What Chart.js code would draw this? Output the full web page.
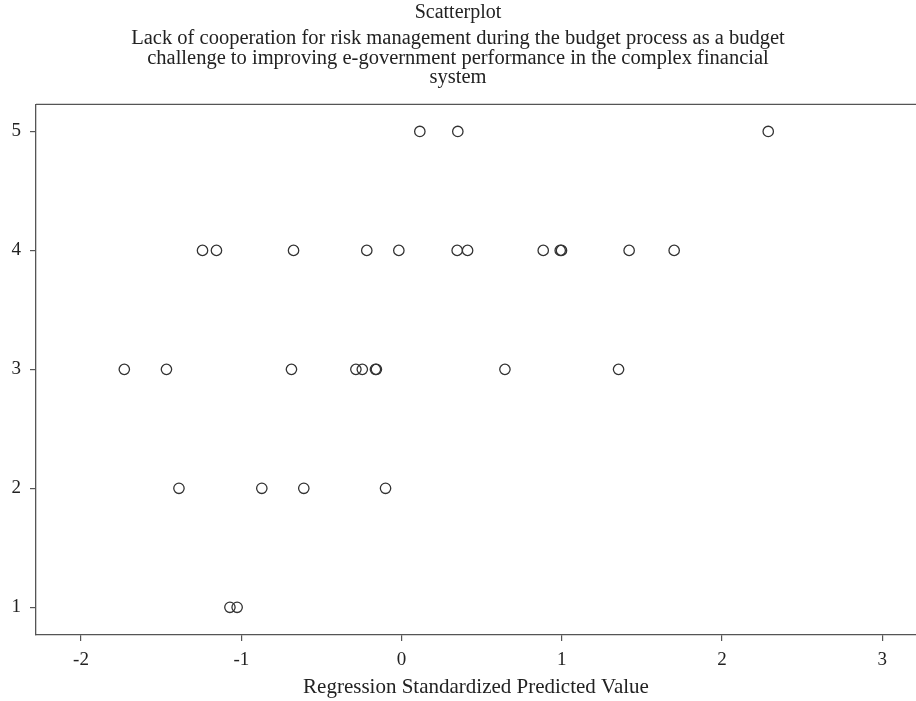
<!DOCTYPE html>
<html>
<head>
<meta charset="utf-8">
<script src="https://cdn.jsdelivr.net/npm/chart.js@4.4.1/dist/chart.umd.min.js"></script>
<style>
  html, body { margin: 0; padding: 0; background: #fff; }
  #graph { display: block; }
</style>
</head>
<body>
<canvas id="graph" width="916" height="701"></canvas>
<script>
// data
const predicted = [
  0.114, 0.351, 2.288,
  -1.242, -1.155, -0.674, -0.217, -0.017, 0.347, 0.412, 0.884, 0.990, 0.998, 1.420, 1.701,
  -1.730, -1.467, -0.687, -0.285, -0.245, -0.163, -0.157, 0.645, 1.354,
  -1.389, -0.872, -0.610, -0.100,
  -1.071, -1.026
];
const observed = [
  5, 5, 5,
  4, 4, 4, 4, 4, 4, 4, 4, 4, 4, 4, 4,
  3, 3, 3, 3, 3, 3, 3, 3, 3,
  2, 2, 2, 2,
  1, 1
];
const xTicks = [-2, -1, 0, 1, 2, 3];
const yTicks = [1, 2, 3, 4, 5];

const titleText = 'Scatterplot';
const subtitleLines = [
  'Lack of cooperation for risk management during the budget process as a budget',
  'challenge to improving e-government performance in the complex financial',
  'system'
];
const xTitle = 'Regression Standardized Predicted Value';

const serif = "'Liberation Serif', 'DejaVu Serif', serif";
const axisColor = '#555';

let points = predicted.map((x, i) => ({ x: x, y: observed[i] }));

// top frame line of the plot box
const topLine = {
  id: 'topLine',
  afterDraw(chart) {
    const ctx = chart.ctx, a = chart.chartArea;
    ctx.save();
    ctx.strokeStyle = axisColor;
    ctx.lineWidth = 1.3;
    ctx.beginPath();
    ctx.moveTo(a.left, a.top);
    ctx.lineTo(a.right, a.top);
    ctx.stroke();
    ctx.restore();
  }
};

const config = {
  type: 'scatter',
  data: {
    datasets: [{
      data: points,
      pointStyle: 'circle',
      pointRadius: 5.2,
      pointHoverRadius: 5.2,
      borderWidth: 1.3,
      borderColor: '#333',
      backgroundColor: 'rgba(0,0,0,0)'
    }]
  },
  options: {
    responsive: false,
    animation: false,
    // no auto padding for the point radius, the box runs to the right edge
    layout: { autoPadding: false, padding: 0 },
    plugins: {
      legend: { display: false },
      tooltip: { enabled: false },
      title: {
        display: true,
        text: titleText,
        color: '#222',
        font: { family: serif, size: 20, weight: 'normal', lineHeight: 1.0 },
        padding: { top: 3, bottom: 6 }
      },
      subtitle: {
        display: true,
        text: subtitleLines,
        color: '#222',
        font: { family: serif, size: 20.5, weight: 'normal', lineHeight: 0.95 },
        padding: { top: 0, bottom: 17 }
      }
    },
    scales: {
      x: {
        type: 'linear',
        min: -2.281,
        max: 3.21,
        afterFit(scale) {
          scale.height = 66;
          scale.paddingLeft = 0;
          scale.paddingRight = 0;
        },
        afterBuildTicks(scale) { scale.ticks = xTicks.map(v => ({ value: v })); },
        grid: { drawOnChartArea: false, drawTicks: true, tickLength: 6, color: axisColor, lineWidth: 1.2 },
        border: { display: true, color: axisColor, width: 1.3 },
        ticks: { color: '#222', font: { family: serif, size: 19 }, padding: 8, maxRotation: 0 },
        title: {
          display: true,
          text: xTitle,
          color: '#222',
          font: { family: serif, size: 21 },
          padding: { top: 0, bottom: 1 }
        }
      },
      y: {
        type: 'linear',
        min: 0.767,
        max: 5.227,
        afterFit(scale) {
          scale.width = 36;
          scale.paddingTop = 0;
          scale.paddingBottom = 0;
        },
        afterBuildTicks(scale) { scale.ticks = yTicks.map(v => ({ value: v })); },
        grid: { drawOnChartArea: false, drawTicks: true, tickLength: 6, color: axisColor, lineWidth: 1.2 },
        border: { display: true, color: axisColor, width: 1.3 },
        ticks: { color: '#222', font: { family: serif, size: 19 }, padding: 9 }
      }
    }
  },
  plugins: [topLine]
};

const scatterChart = new Chart(document.getElementById('graph'), config);
</script>
</body>
</html>
